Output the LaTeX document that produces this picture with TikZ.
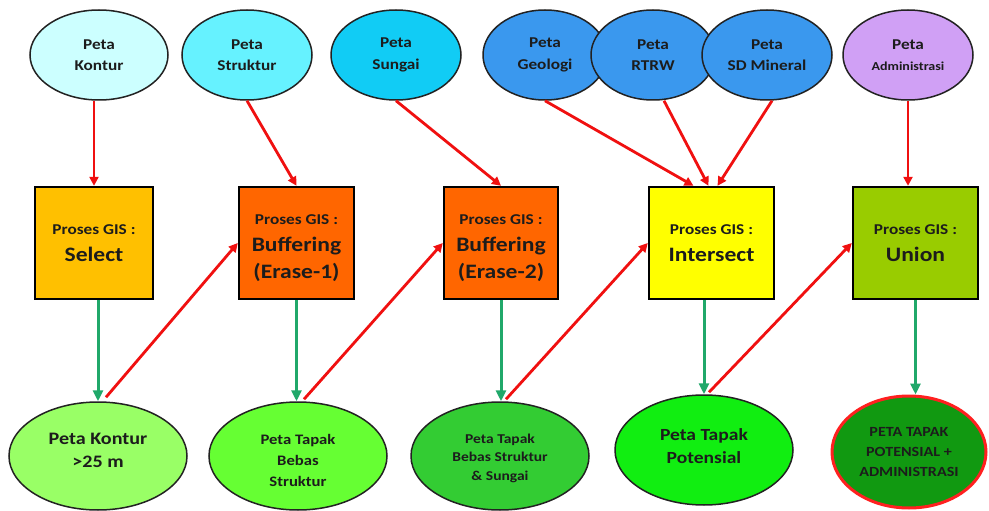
\documentclass[tikz,border=0pt]{standalone}
\usepackage{fontspec}
\setmainfont{Carlito}[FakeStretch=1.15]
\usetikzlibrary{shapes.geometric,arrows.meta,calc}
\definecolor{txt}{HTML}{1C1C1C}
\definecolor{edge}{HTML}{222222}
\definecolor{cKontur}{HTML}{CCFFFF}
\definecolor{cStruktur}{HTML}{66F2FF}
\definecolor{cSungai}{HTML}{11CCF5}
\definecolor{cBlue}{HTML}{3A98EE}
\definecolor{cAdmin}{HTML}{D0A0F5}
\definecolor{cSelect}{HTML}{FFC000}
\definecolor{cBuffer}{HTML}{FF6600}
\definecolor{cInter}{HTML}{FFFF00}
\definecolor{cUnion}{HTML}{99CC00}
\definecolor{gA}{HTML}{99FF66}
\definecolor{gB}{HTML}{66FF33}
\definecolor{gC}{HTML}{33CC33}
\definecolor{gD}{HTML}{11EE11}
\definecolor{gE}{HTML}{119911}
\definecolor{redarrow}{HTML}{F01010}
\definecolor{greenarrow}{HTML}{20A86A}
\definecolor{redrim}{HTML}{FF2020}
\tikzset{
  topell/.style={ellipse, draw=edge, line width=1.5pt, inner sep=0pt, minimum height=90pt,
    align=center, text=txt, font=\bfseries\fontsize{15}{21.5}\selectfont},
  botell/.style={ellipse, draw=edge, line width=1.5pt, inner sep=0pt, minimum width=178pt, minimum height=108pt,
    align=center, text=txt},
  procbox/.style={rectangle, draw=black, line width=2.4pt, inner sep=0pt, minimum height=112pt,
    align=center, text=txt, font=\bfseries\fontsize{20.5}{27}\selectfont},
  redarr/.style={draw=redarrow, line width=2.8pt, -{Triangle[length=9pt,width=9pt]}},
  greenarr/.style={draw=greenarrow, line width=3pt, -{Triangle[length=11pt,width=10pt]}},
}
\newcommand{\pg}{{\fontsize{15}{27}\selectfont Proses GIS :}}
\newcommand{\dn}[1]{\rule{0pt}{#1}}
\newcommand{\up}[1]{\rule[-#1]{0pt}{0pt}}
\begin{document}
\begin{tikzpicture}[x=1pt,y=-1pt]
\useasboundingbox[fill=white] (0,0) rectangle (989,511);
% top ellipses
\node[topell, fill=cKontur, minimum width=138pt] (kontur) at (99,55) {Peta\\Kontur};
\node[topell, fill=cStruktur, minimum width=130pt] (struktur) at (247,55) {Peta\\Struktur};
\node[topell, fill=cSungai, minimum width=130pt] (sungai) at (396,55) {Peta\\Sungai};
\node[topell, fill=cBlue, minimum width=124pt] (geologi) at (545,55) {Peta\\Geologi};
\node[topell, fill=cBlue, minimum width=124pt] (rtrw) at (653,55) {Peta\\RTRW};
\node[topell, fill=cBlue, minimum width=130pt] (sdmin) at (767,55) {Peta\\SD Mineral};
\node[topell, fill=cAdmin, minimum width=130pt] (admin) at (908,55) {Peta\\{\fontsize{12.2}{21.5}\selectfont Administrasi}};
% process boxes
\node[procbox, fill=cSelect, minimum width=118pt] (select) at (94,243) {\pg\\Select};
\node[procbox, fill=cBuffer, minimum width=115pt] (buff1) at (296.5,243) {\dn{20pt}\pg\\Buffering\\(Erase-1)};
\node[procbox, fill=cBuffer, minimum width=114pt] (buff2) at (501,243) {\dn{20pt}\pg\\Buffering\\(Erase-2)};
\node[procbox, fill=cInter, minimum width=125pt] (inter) at (711.5,243) {\pg\\Intersect};
\node[procbox, fill=cUnion, minimum width=125pt] (union) at (915.5,243) {\pg\\Union};
% result ellipses
\node[botell, fill=gA, font=\bfseries\fontsize{17.5}{23}\selectfont] (res1) at (98,456) {Peta Kontur\\>25 m\up{12pt}};
\node[botell, fill=gB, font=\bfseries\fontsize{14.5}{21}\selectfont] (res2) at (298,456) {\dn{19pt}Peta Tapak\\Bebas\\Struktur};
\node[botell, fill=gC, font=\bfseries\fontsize{13.5}{18.5}\selectfont] (res3) at (500,456) {\dn{14pt}Peta Tapak\\Bebas Struktur\\\& Sungai};
\node[botell, fill=gD, minimum height=110pt, font=\bfseries\fontsize{17}{23}\selectfont] (res4) at (704,450) {Peta Tapak\\Potensial\up{8pt}};
\node[botell, fill=gE, draw=redrim, line width=3pt, minimum width=154pt, minimum height=112pt, font=\bfseries\fontsize{14}{20}\selectfont] (res5) at (909,452) {PETA TAPAK\\POTENSIAL +\\ADMINISTRASI};
% input arrows
\draw[redarr] (kontur.south -| select.north) -- (select.north);
\draw[redarr] (struktur.south) -- (buff1.north);
\draw[redarr] (sungai.south) -- (buff2.north);
\draw[redarr] (geologi.south) -- ($(inter.north)+(-18,0)$);
\draw[redarr] ($(rtrw.south)+(11,0)$) -- ($(inter.north)+(-3,0)$);
\draw[redarr] ($(sdmin.south)+(5,0)$) -- ($(inter.north)+(6,0)$);
\draw[redarr] (admin.south) -- (admin.south |- union.north);
% process to result
\draw[greenarr] (res1.north |- select.south) -- (res1.north);
\draw[greenarr] (buff1.south) -- (buff1.south |- res2.north);
\draw[greenarr] (buff2.south) -- (buff2.south |- res3.north);
\draw[greenarr] (res4.north |- inter.south) -- (res4.north);
\draw[greenarr] (union.south) -- (union.south |- res5.north);
% chaining arrows
\draw[redarr] ($(res1.north)+(8,-4)$) -- (buff1.west);
\draw[redarr] ($(res2.north)+(6,-2)$) -- (buff2.west);
\draw[redarr] ($(res3.north)+(6,-2)$) -- (inter.west);
\draw[redarr] ($(res4.north)+(5,-2)$) -- (union.west);
\end{tikzpicture}
\end{document}
